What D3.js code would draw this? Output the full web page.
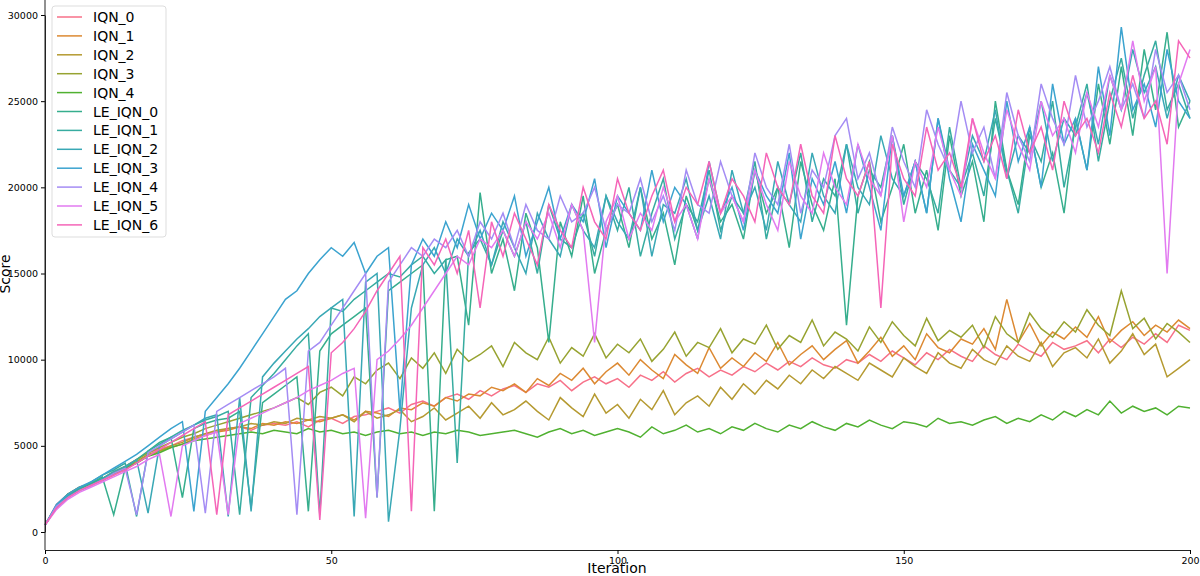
<!DOCTYPE html><html><head><meta charset="utf-8">
<script src="https://cdn.jsdelivr.net/npm/d3@7"></script>
<style>body{margin:0;background:#fff}text{font-family:"DejaVu Sans",sans-serif}</style></head><body>
<svg id="c" width="1200" height="576"></svg>
<script>
// values in hundreds, one every 2 iterations (0..200)
const seriesNames=["IQN_0","IQN_1","IQN_2","IQN_3","IQN_4","LE_IQN_0","LE_IQN_1","LE_IQN_2","LE_IQN_3","LE_IQN_4","LE_IQN_5","LE_IQN_6"];
const colors=["#f77189","#dc8932","#b59a31","#97a331","#50b131","#36ae8d","#37aca0","#39a8b5","#3ba3cf","#a48cf4","#e27af0","#f565b8"];
const IQN_0=[4,16,22,26,28,31,34,38,42,46,48,50,53,55,57,58,60,61,59,62,63,62,64,61,65,66,63,67,68,70,72,69,74,76,73,78,80,77,82,79,83,85,81,86,84,88,82,87,90,86,89,84,91,88,93,87,92,95,90,94,91,96,93,98,94,99,96,101,97,95,100,98,103,99,105,101,97,104,100,106,102,99,108,103,100,109,105,102,110,106,108,111,104,112,107,113,109,115,110,120,117];
const IQN_1=[4,14,21,25,28,30,33,37,40,44,47,49,51,54,56,58,59,61,60,63,62,64,63,65,64,66,68,65,70,69,67,72,71,75,73,78,76,80,79,84,82,86,81,89,85,92,88,95,86,93,98,91,100,94,89,103,97,92,107,95,101,96,104,99,110,97,103,108,100,106,111,98,105,113,102,108,100,115,107,104,112,109,118,106,135,110,121,108,116,112,119,113,125,110,117,122,114,120,116,123,118];
const IQN_2=[4,15,22,25,28,30,34,37,41,45,47,50,52,55,57,59,60,61,63,62,64,63,66,65,67,66,68,64,70,66,68,71,64,67,72,65,69,73,66,75,68,71,76,70,65,78,72,67,80,69,74,66,77,71,82,68,75,79,73,84,77,86,80,88,83,91,86,94,89,96,92,88,98,94,90,101,96,92,104,98,95,106,100,97,108,102,99,110,96,104,107,101,112,98,105,115,103,109,90,95,100];
const IQN_3=[4,15,21,25,28,31,35,38,42,46,49,52,55,57,60,62,64,66,68,70,72,75,78,74,81,84,79,90,86,94,98,89,101,95,104,92,106,99,103,108,96,110,104,100,113,98,107,102,115,101,109,104,112,99,106,116,102,110,107,118,104,112,109,120,106,114,110,123,108,116,112,105,119,110,122,114,108,124,111,117,113,120,107,125,115,110,127,118,113,122,116,129,120,114,140,118,124,112,121,116,110];
const IQN_4=[4,15,22,26,28,31,34,37,40,44,46,49,51,53,54,55,56,57,58,57,59,58,57,60,58,59,57,58,56,58,59,57,58,56,58,57,59,58,56,57,58,59,57,55,58,60,57,59,56,58,60,58,55,61,57,59,62,58,60,57,61,59,63,60,58,62,60,64,61,59,63,61,65,62,60,64,63,61,66,63,64,62,65,67,63,66,64,68,65,70,67,71,68,76,69,73,70,72,68,73,72];
const LE_IQN_0=[4,14,20,25,28,32,10,37,42,47,52,55,20,60,63,65,66,70,14,75,80,85,90,12,105,115,120,125,130,20,140,145,150,155,12,158,160,120,197,150,170,140,185,165,110,180,160,195,150,175,190,165,200,170,185,155,195,175,205,180,190,170,210,185,200,165,215,190,175,205,120,195,215,180,200,225,185,210,175,230,195,215,180,250,210,190,235,200,220,185,240,210,260,225,270,230,280,245,290,235,250];
const LE_IQN_1=[4,15,21,25,29,33,36,40,9,47,51,55,59,62,65,67,70,10,78,85,92,100,108,115,10,130,128,135,140,145,150,148,155,160,150,158,40,162,170,155,175,160,180,150,190,170,165,185,160,195,175,200,160,185,205,170,190,180,210,175,195,185,215,170,200,190,220,180,205,195,225,185,210,200,230,190,215,205,185,235,200,220,195,240,210,185,230,215,250,200,235,260,215,250,275,240,265,285,245,260,240];
const LE_IQN_2=[4,15,21,24,27,31,35,38,42,11,50,54,58,62,66,68,9,78,12,90,98,105,112,118,125,130,135,9,145,150,6,60,130,155,165,150,170,160,175,155,180,165,150,185,170,160,190,175,165,195,180,170,200,160,190,185,205,175,195,170,210,185,200,175,215,190,180,220,195,185,225,200,190,230,205,195,215,185,240,210,200,230,215,245,205,230,220,250,215,240,230,255,225,265,245,280,255,270,240,265,250];
const LE_IQN_3=[4,16,22,26,29,33,37,41,45,50,55,60,64,12,70,78,86,95,105,115,125,135,140,150,158,165,160,168,150,160,165,70,155,170,160,180,165,190,170,185,175,195,160,180,200,170,190,180,205,165,195,185,175,210,180,200,190,170,215,185,200,175,210,195,185,220,170,205,190,215,185,225,200,175,230,195,215,185,240,205,180,225,210,195,250,215,235,200,260,225,240,210,270,230,293,245,260,235,280,250,240];
const LE_IQN_4=[4,15,20,24,27,30,34,37,10,46,50,54,58,62,11,70,74,78,82,86,90,95,10,105,110,120,130,140,150,20,145,155,165,160,170,165,175,160,180,170,185,165,190,175,170,195,180,185,200,175,190,185,205,180,195,175,210,190,185,215,195,180,220,200,190,225,185,210,200,230,240,205,220,195,235,215,200,245,225,210,250,220,235,205,255,230,215,260,240,225,265,235,250,270,245,260,240,280,255,265,245];
const LE_IQN_5=[4,13,19,23,26,29,32,35,38,42,45,9,50,53,56,58,10,63,66,69,72,75,78,82,85,88,92,95,8,100,105,112,120,130,140,150,160,155,170,165,175,160,180,170,185,165,190,175,110,180,195,170,185,175,200,180,190,170,205,185,195,180,210,190,175,215,195,185,220,200,190,225,205,195,230,180,215,200,235,210,195,240,220,205,245,225,210,250,230,240,220,255,235,265,245,285,250,270,150,260,280];
const LE_IQN_6=[4,14,20,24,27,30,33,36,40,44,48,52,56,60,64,10,68,72,76,80,84,88,92,96,7,104,110,118,128,140,150,160,12,165,155,170,150,175,130,180,160,185,170,155,190,175,165,200,180,170,205,185,175,195,210,180,200,190,215,185,205,195,180,220,200,190,225,195,185,230,205,195,215,130,225,205,195,235,210,220,200,240,215,230,205,245,220,235,210,250,230,240,220,255,235,265,240,250,225,285,275];
const allSeries=[IQN_0,IQN_1,IQN_2,IQN_3,IQN_4,LE_IQN_0,LE_IQN_1,LE_IQN_2,LE_IQN_3,LE_IQN_4,LE_IQN_5,LE_IQN_6];
const xTicks=[0,50,100,150,200], yTicks=[0,5000,10000,15000,20000,25000,30000];

const svg=d3.select("#c");
const x=d3.scaleLinear().domain([0,200]).range([45,1190]);
const y=d3.scaleLinear().domain([0,30000]).range([532,15]);
const line=d3.line().x((d,i)=>x(i*2)).y(d=>y(d*100));
allSeries.forEach((s,k)=>svg.append("path").attr("d",line(s)).attr("fill","none").attr("stroke",colors[k]).attr("stroke-width",1.5));
const H=y.range()[0]+18;
svg.append("g").attr("transform",`translate(0,${H})`).call(d3.axisBottom(x).tickValues(xTicks).tickFormat(d3.format("d")).tickSize(4).tickSizeOuter(0)).call(g=>g.selectAll("text").attr("font-size",9.5));
svg.append("g").attr("transform","translate(45,0)").call(d3.axisLeft(y).tickValues(yTicks).tickFormat(d3.format("d")).tickSize(4).tickSizeOuter(0)).call(g=>g.selectAll("text").attr("font-size",9.5));
svg.selectAll(".domain").attr("stroke","#222");
svg.append("line").attr("x1",45).attr("x2",45).attr("y1",0).attr("y2",H).attr("stroke","#222");
svg.append("text").attr("x",617).attr("y",573).attr("text-anchor","middle").attr("font-size",14).text("Iteration");
svg.append("text").attr("transform","translate(10,274) rotate(-90)").attr("text-anchor","middle").attr("font-size",14).text("Score");
const lg=svg.append("g");
lg.append("rect").attr("x",52).attr("y",6).attr("width",114).attr("height",231).attr("rx",3).attr("fill","#fff").attr("fill-opacity",0.85).attr("stroke","#ddd");
seriesNames.forEach((n,k)=>{const yy=17+k*18.9;
 lg.append("line").attr("x1",57).attr("x2",82).attr("y1",yy).attr("y2",yy).attr("stroke",colors[k]).attr("stroke-width",1.5);
 lg.append("text").attr("x",93).attr("y",yy+5).attr("font-size",14).text(n);});
</script></body></html>
